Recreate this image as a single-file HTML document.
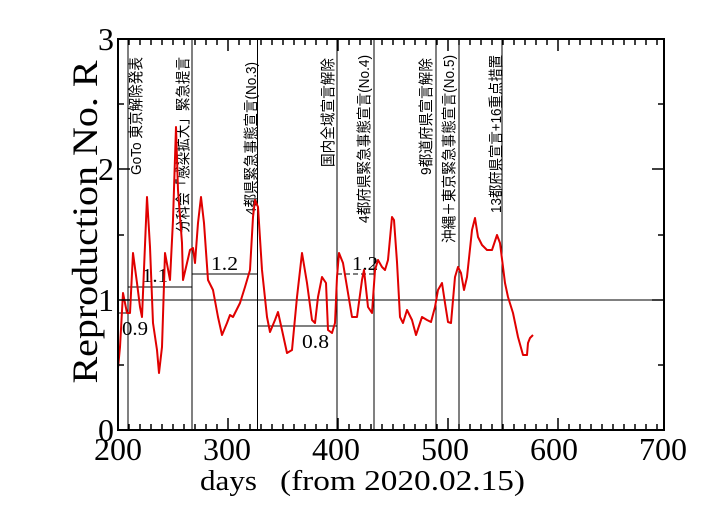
<!DOCTYPE html>
<html><head><meta charset="utf-8"><style>
html,body{margin:0;padding:0;background:#fff;}
svg{display:block;}
</style></head><body>
<svg width="703" height="509" viewBox="0 0 703 509" xmlns="http://www.w3.org/2000/svg">
<rect width="703" height="509" fill="#fff"/>
<g stroke="#000" stroke-width="1">
<line x1="118" y1="300" x2="664" y2="300"/>
<line x1="128" y1="39" x2="128" y2="430"/>
<line x1="192" y1="39" x2="192" y2="430"/>
<line x1="257.5" y1="39" x2="257.5" y2="430"/>
<line x1="337" y1="39" x2="337" y2="430"/>
<line x1="374" y1="39" x2="374" y2="430"/>
<line x1="436" y1="39" x2="436" y2="430"/>
<line x1="459" y1="39" x2="459" y2="430"/>
<line x1="502" y1="39" x2="502" y2="430"/>
<line x1="118" y1="313" x2="128" y2="313"/>
<line x1="128" y1="287" x2="192" y2="287"/>
<line x1="192" y1="274" x2="257.5" y2="274"/>
<line x1="257.5" y1="326" x2="337" y2="326"/>
<line x1="337" y1="274" x2="374" y2="274" stroke-dasharray="5,3"/>
</g>
<g font-family="Liberation Serif, serif" font-size="20" fill="#000">
<text x="122" y="335" textLength="26" lengthAdjust="spacingAndGlyphs">0.9</text>
<text x="142" y="282" textLength="26" lengthAdjust="spacingAndGlyphs">1.1</text>
<text x="211" y="270" textLength="27" lengthAdjust="spacingAndGlyphs">1.2</text>
<text x="302" y="348" textLength="27" lengthAdjust="spacingAndGlyphs">0.8</text>
<text x="352" y="270" textLength="26" lengthAdjust="spacingAndGlyphs">1.2</text>
</g>
<g font-family="Liberation Sans, Noto Sans CJK JP, sans-serif" font-size="15" fill="#000" text-anchor="end">
<text transform="translate(141,57) rotate(-90)" textLength="118" lengthAdjust="spacingAndGlyphs">GoTo 東京解除発表</text>
<text transform="translate(188,57) rotate(-90)" textLength="176" lengthAdjust="spacingAndGlyphs">分科会「感染拡大」緊急提言</text>
<text transform="translate(256,62) rotate(-90)" textLength="153" lengthAdjust="spacingAndGlyphs">4都県緊急事態宣言(No.3)</text>
<text transform="translate(333,58) rotate(-90)" textLength="109" lengthAdjust="spacingAndGlyphs">国内全域宣言解除</text>
<text transform="translate(369,55) rotate(-90)" textLength="168" lengthAdjust="spacingAndGlyphs">4都府県緊急事態宣言(No.4)</text>
<text transform="translate(431,58) rotate(-90)" textLength="117" lengthAdjust="spacingAndGlyphs">9都道府県宣言解除</text>
<text transform="translate(454,55) rotate(-90)" textLength="188" lengthAdjust="spacingAndGlyphs">沖縄＋東京緊急事態宣言(No.5)</text>
<text transform="translate(501,55) rotate(-90)" textLength="158" lengthAdjust="spacingAndGlyphs">13都府県宣言+16重点措置</text>
</g>
<polyline fill="none" stroke="#e00000" stroke-width="2" stroke-linejoin="round" points="
118,368 120,347 123,293 127,313 130,313 133,253 137,283 140,307 142,317 147,197 150,247 153,323 157,350 159,373 162,347 165,253 170,280 173,220 176,127 178,190 182,243 183,280 187,263 190,250 193,248 195,263 198,223 201,197 204,223 208,280 213,290 218,317 222,335 227,323 230,315 233,317 240,303 245,287 250,270 253,217 255,200 258,207 262,270 267,317 270,332 275,320 278,312 282,330 287,353 292,350 297,297 302,253 307,283 312,320 315,323 318,297 322,277 326,283 328,330 332,333 335,323 337,277 339,253 343,263 348,293 352,317 357,317 362,280 364,270 368,307 372,313 375,270 378,260 382,267 385,270 388,260 392,217 394,220 397,262 400,317 403,323 407,310 412,320 416,335 422,317 427,320 431,322 435,307 438,290 442,283 445,303 448,322 451,323 455,277 458,267 461,273 464,290 467,277 472,230 475,218 478,237 482,245 487,250 492,250 497,235 500,243 505,283 508,297 513,313 518,337 523,355 527,355 528,343 530,338 533,335"/>
<rect x="118" y="39" width="546" height="391" fill="none" stroke="#000" stroke-width="2"/>
<g stroke="#000" stroke-width="1.5">
<path d="M129,430v-6M140,430v-6M151,430v-6M162,430v-6M173,430v-6M184,430v-6M195,430v-6M206,430v-6M217,430v-6M239,430v-6M250,430v-6M261,430v-6M272,430v-6M283,430v-6M294,430v-6M305,430v-6M316,430v-6M327,430v-6M349,430v-6M360,430v-6M371,430v-6M382,430v-6M393,430v-6M404,430v-6M415,430v-6M426,430v-6M437,430v-6M459,430v-6M470,430v-6M481,430v-6M492,430v-6M503,430v-6M514,430v-6M525,430v-6M536,430v-6M547,430v-6M569,430v-6M580,430v-6M591,430v-6M602,430v-6M613,430v-6M624,430v-6M635,430v-6M646,430v-6M657,430v-6"/>
<path d="M228,430v-12M338,430v-12M448,430v-12M558,430v-12"/>
<path d="M129,39v6M140,39v6M151,39v6M162,39v6M173,39v6M184,39v6M195,39v6M206,39v6M217,39v6M239,39v6M250,39v6M261,39v6M272,39v6M283,39v6M294,39v6M305,39v6M316,39v6M327,39v6M349,39v6M360,39v6M371,39v6M382,39v6M393,39v6M404,39v6M415,39v6M426,39v6M437,39v6M459,39v6M470,39v6M481,39v6M492,39v6M503,39v6M514,39v6M525,39v6M536,39v6M547,39v6M569,39v6M580,39v6M591,39v6M602,39v6M613,39v6M624,39v6M635,39v6M646,39v6M657,39v6"/>
<path d="M228,39v12M338,39v12M448,39v12M558,39v12"/>
<path d="M118,365h6M118,235h6M118,104h6M118,300h12M118,169h12M664,365h-6M664,235h-6M664,104h-6M664,300h-12M664,169h-12"/>
</g>
<g font-family="Liberation Serif, serif" font-size="32" fill="#000">
<g text-anchor="end">
<text x="114" y="441">0</text>
<text x="114" y="311">1</text>
<text x="114" y="180">2</text>
<text x="114" y="50">3</text>
</g>
<g text-anchor="middle">
<text x="118" y="460">200</text>
<text x="227" y="460">300</text>
<text x="336" y="460">400</text>
<text x="445" y="460">500</text>
<text x="554" y="460">600</text>
<text x="663" y="460">700</text>
</g>
<text x="200" y="490" font-size="29" textLength="57" lengthAdjust="spacingAndGlyphs">days</text>
<text x="280" y="490" font-size="29" textLength="245" lengthAdjust="spacingAndGlyphs">(from 2020.02.15)</text>
<text transform="translate(97,222) rotate(-90)" text-anchor="middle" font-size="36" textLength="323" lengthAdjust="spacingAndGlyphs">Reproduction No.  R</text>
</g>
</svg>
</body></html>
